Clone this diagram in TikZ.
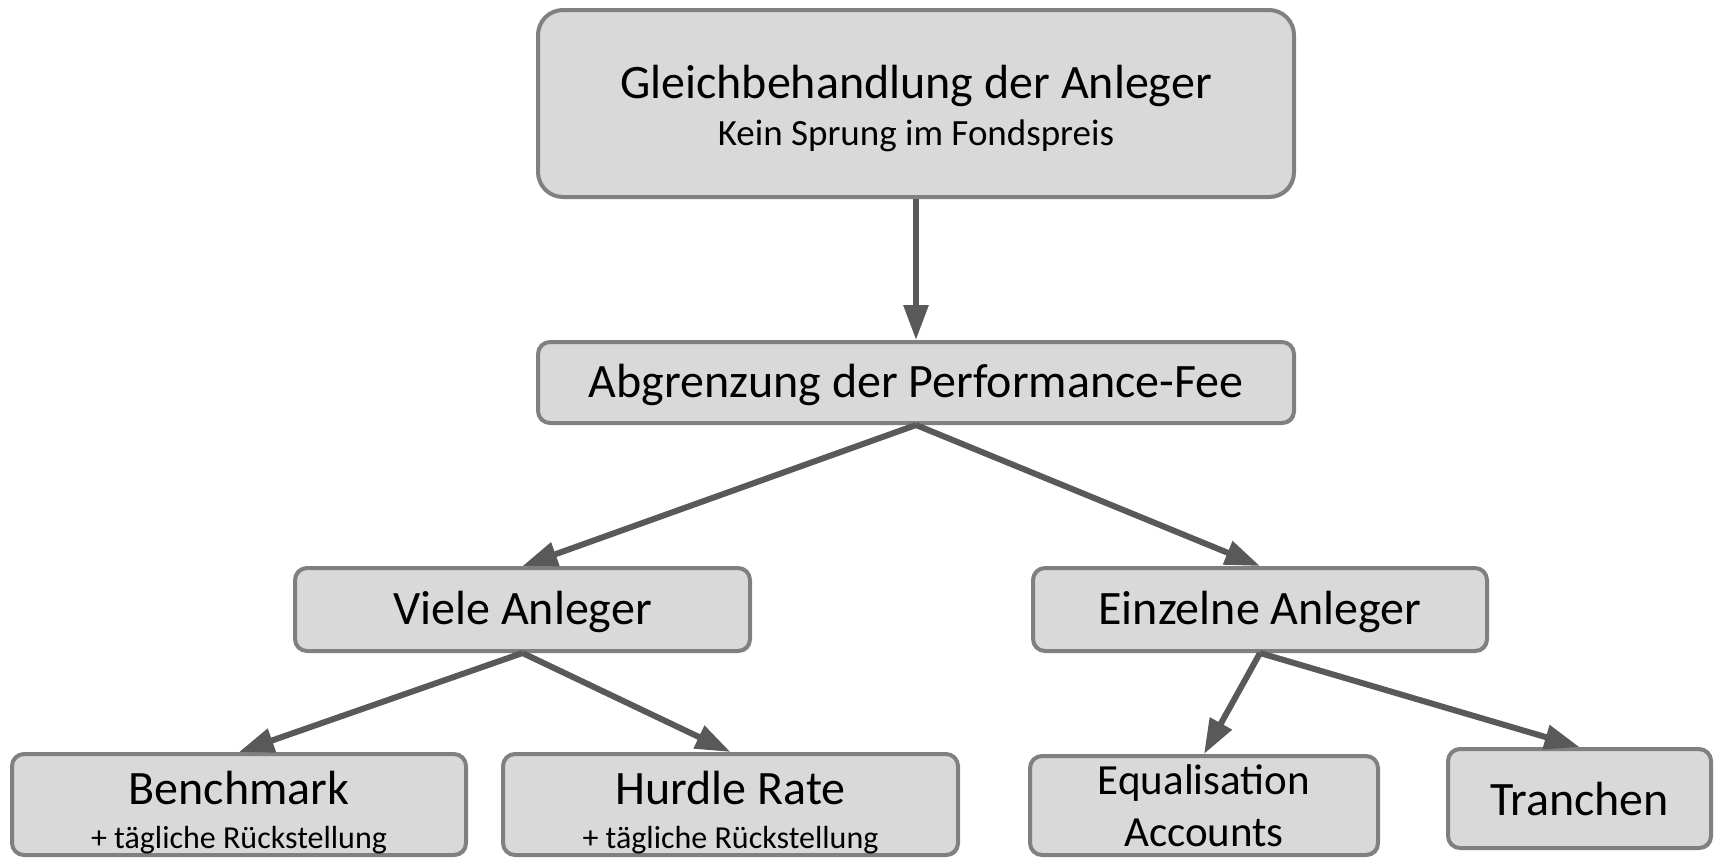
\documentclass[tikz,border=0pt]{standalone}
\usepackage{fontspec}
\setmainfont{Carlito}
\usetikzlibrary{arrows.meta,shadows}
\definecolor{boxfill}{HTML}{D9D9D9}
\definecolor{boxline}{HTML}{808080}
\definecolor{linkgray}{HTML}{595959}
\newcommand{\subline}{\fontsize{16}{16}\selectfont}
\begin{document}
\begin{tikzpicture}[x=0.5pt,y=-0.5pt,
    box/.style={draw=boxline,fill=boxfill,line width=2pt,rounded corners=6pt,
                align=center,inner sep=0pt,
                drop shadow={shadow xshift=0.8pt,shadow yshift=-0.8pt,fill=black,opacity=0.35}},
    link/.style={draw=linkgray,line width=3pt,-{Triangle[length=17.5pt,width=12pt]}},
    bigtxt/.style={font=\fontsize{24}{24}\selectfont},
    onetxt/.style={bigtxt,text height=20.5pt,text depth=6pt},
    ]
    \useasboundingbox (0,0) rectangle (1714,858);
    % top level
    \node[box,bigtxt,rounded corners=12.5pt,minimum width=378pt,minimum height=93.5pt] (gleich) at (916,103.5)
        {\rule{0pt}{21.6pt}Gleichbehandlung der Anleger\\[-0.5pt]\fontsize{18.5}{18.5}\selectfont Kein Sprung im Fondspreis};
    \node[box,onetxt,minimum width=378pt,minimum height=40.5pt] (fee) at (916,382.5)
        {Abgrenzung der Performance-Fee};
    % second level
    \node[box,onetxt,minimum width=227.5pt,minimum height=41.5pt] (viele) at (522.5,609.5) {Viele Anleger};
    \node[box,onetxt,minimum width=227pt,minimum height=41.5pt] (einzeln) at (1260,609.5) {Einzelne Anleger};
    % third level
    \node[box,bigtxt,minimum width=227pt,minimum height=50.5pt] (bench) at (239,804.5)
        {\rule{0pt}{24.6pt}Benchmark\\[-2pt]\subline + tägliche Rückstellung};
    \node[box,bigtxt,minimum width=227.5pt,minimum height=50.5pt] (hurdle) at (730.5,804.5)
        {\rule{0pt}{24.6pt}Hurdle Rate\\[-2pt]\subline + tägliche Rückstellung};
    \node[box,font=\fontsize{21.5}{21.5}\selectfont,minimum width=174pt,minimum height=49.5pt] (equal) at (1204,805.5)
        {Equalisation\\[4.5pt]Accounts};
    \node[box,bigtxt,minimum width=131.5pt,minimum height=49.5pt] (tranch) at (1579.5,798.5) {Tranchen};
    % connectors
    \draw[link] (gleich.south) -- (fee.north);
    \draw[link] (fee.south) -- (viele.north);
    \draw[link] (fee.south) -- (einzeln.north);
    \draw[link] (viele.south) -- (bench.north);
    \draw[link] (viele.south) -- (hurdle.north);
    \draw[link] (einzeln.south) -- (equal.north);
    \draw[link] (einzeln.south) -- (tranch.north);
\end{tikzpicture}
\end{document}
